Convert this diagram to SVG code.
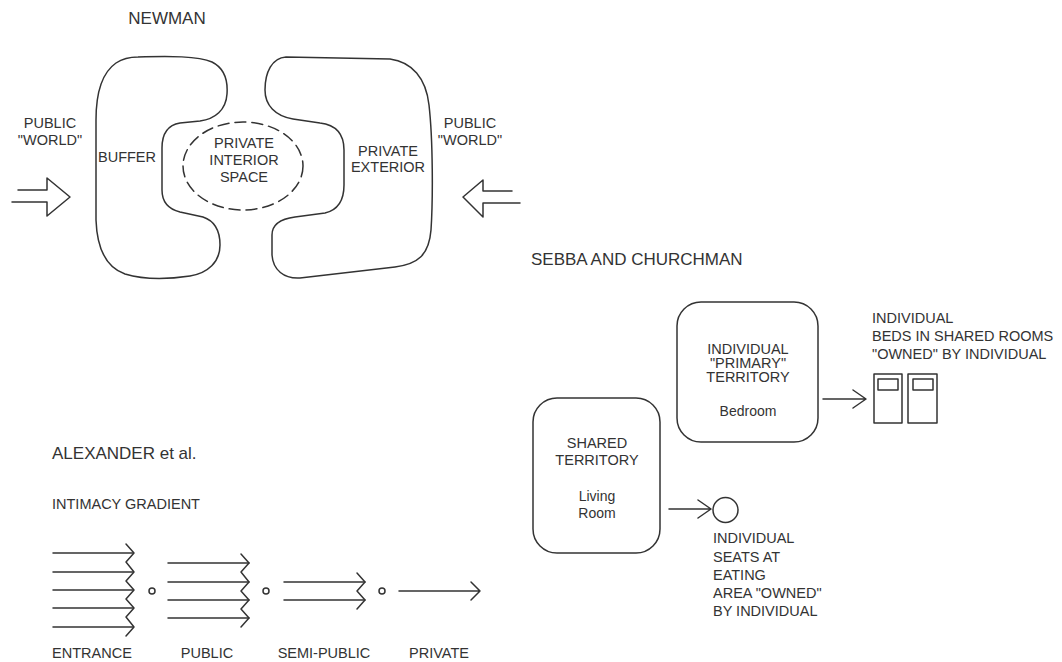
<svg xmlns="http://www.w3.org/2000/svg" width="1062" height="662" viewBox="0 0 1062 662">
<style>
  .ln { fill: none; stroke: #333; stroke-width: 1.5; stroke-linejoin: round; stroke-linecap: round; }
  .t { font-family: "Liberation Sans", Arial, sans-serif; font-size: 14.5px; fill: #333; }
  .h { font-family: "Liberation Sans", Arial, sans-serif; font-size: 17px; fill: #333; }
  .m { text-anchor: middle; }
  .dash { stroke-dasharray: 11 6; }
</style>
<rect width="1062" height="662" fill="#fff"/>

<!-- NEWMAN -->
<g id="newman-title"><text class="h m" x="167" y="24">NEWMAN</text></g>
<g id="newman-buffer">
  <path class="ln" d="M 138,57 C 170,56 198,56 212,62 C 224,68 228,80 227,94 C 226,110 215,119 200,121 L 180,123 C 168,125 162,133 162,148 L 162,190 C 162,202 168,209 180,212 L 203,217 C 215,221 220,232 220,245 C 220,262 208,273 190,276 C 170,279 145,280 125,274 C 105,267 97,248 96,220 L 96,120 C 96,90 103,72 116,63 C 122,59 130,57 138,57 Z"/>
  <text class="t m" x="127" y="162">BUFFER</text>
</g>
<g id="newman-exterior">
  <path class="ln" d="M 286,57 L 390,59 C 412,62 426,78 429,105 C 433,140 433,200 431,230 C 429,255 418,264 395,267 L 300,278 C 284,279 273,270 272,255 L 272,235 C 272,225 280,219 295,217 L 325,213 C 338,210 344,200 344,185 L 344,150 C 344,135 337,125 320,123 L 293,119 C 275,116 265,105 265,90 C 265,72 272,58 286,57 Z"/>
  <text class="t m" x="388" y="156">PRIVATE</text>
  <text class="t m" x="388" y="172">EXTERIOR</text>
</g>
<g id="newman-interior">
  <ellipse class="ln dash" cx="243" cy="166" rx="60" ry="44"/>
  <text class="t m" x="244" y="148">PRIVATE</text>
  <text class="t m" x="244" y="165">INTERIOR</text>
  <text class="t m" x="244" y="182">SPACE</text>
</g>
<g id="public-left">
  <text class="t m" x="50" y="128">PUBLIC</text>
  <text class="t m" x="50" y="145">"WORLD"</text>
</g>
<g id="public-right">
  <text class="t m" x="470" y="128">PUBLIC</text>
  <text class="t m" x="470" y="145">"WORLD"</text>
</g>

<!-- SEBBA AND CHURCHMAN -->
<g id="sebba-title"><text class="h" x="531" y="265">SEBBA AND CHURCHMAN</text></g>
<g id="primary-territory">
  <rect class="ln" x="677" y="302" width="141" height="140" rx="24"/>
  <text class="t m" x="748" y="354">INDIVIDUAL</text>
  <text class="t m" x="748" y="368">"PRIMARY"</text>
  <text class="t m" x="748" y="382">TERRITORY</text>
  <text class="t m" x="748" y="416" style="font-size:14px">Bedroom</text>
</g>
<g id="shared-territory">
  <rect class="ln" x="533" y="398" width="127" height="155" rx="24"/>
  <text class="t m" x="597" y="448">SHARED</text>
  <text class="t m" x="597" y="465">TERRITORY</text>
  <text class="t m" x="597" y="501" style="font-size:14px">Living</text>
  <text class="t m" x="597" y="518" style="font-size:14px">Room</text>
</g>
<g id="beds">
  <rect class="ln" x="874" y="374" width="28" height="49"/>
  <rect class="ln" x="878" y="379" width="20" height="11"/>
  <rect class="ln" x="908" y="374" width="29" height="49"/>
  <rect class="ln" x="913" y="379" width="20" height="11"/>
  <text class="t" x="872" y="323">INDIVIDUAL</text>
  <text class="t" x="872" y="341">BEDS IN SHARED ROOMS</text>
  <text class="t" x="872" y="359">"OWNED" BY INDIVIDUAL</text>
</g>
<g id="seat">
  <circle class="ln" cx="725.5" cy="510" r="12.5"/>
  <text class="t" x="713" y="543">INDIVIDUAL</text>
  <text class="t" x="713" y="562">SEATS AT</text>
  <text class="t" x="713" y="580">EATING</text>
  <text class="t" x="713" y="598">AREA "OWNED"</text>
  <text class="t" x="713" y="616">BY INDIVIDUAL</text>
</g>

<!-- ALEXANDER -->
<g id="alexander-title">
  <text class="h" x="52" y="459">ALEXANDER et al.</text>
  <text class="t" x="52" y="509">INTIMACY GRADIENT</text>
</g>
<g id="entrance">
  <path class="ln" d="M53,553H133 M53,572H133 M53,590H133 M53,608H133 M53,627H133"/>
  <path class="ln" d="M126,544 L134,553 L126,562 L134,572 L126,581 L134,590 L126,599 L134,608 L126,617 L134,627 L126,636"/>
  <text class="t m" x="92" y="658">ENTRANCE</text>
</g>
<g id="public">
  <path class="ln" d="M168,563H249 M168,582H249 M168,600H249 M168,618H249"/>
  <path class="ln" d="M241,554 L249,563 L241,572 L249,582 L241,591 L249,600 L241,609 L249,618 L241,627"/>
  <text class="t m" x="207" y="658">PUBLIC</text>
</g>
<g id="semi-public">
  <path class="ln" d="M284,582H365 M284,600H365"/>
  <path class="ln" d="M357,573 L365,582 L357,591 L365,600 L357,609"/>
  <text class="t m" x="324" y="658">SEMI-PUBLIC</text>
</g>
<g id="private">
  <text class="t m" x="439" y="658">PRIVATE</text>
</g>
<g id="dots">
  <circle class="ln" cx="152" cy="591" r="3"/>
  <circle class="ln" cx="266" cy="591" r="3"/>
  <circle class="ln" cx="382" cy="591" r="3"/>
</g>

<!-- connectors -->
<g id="connectors">
  <path class="ln" d="M18,190 L47,190 L47,178 L70,197 L47,216 L47,202 L12,202"/>
  <path class="ln" d="M512,191 L483,191 L483,180 L463,197 L483,217 L483,203 L520,203"/>
  <path class="ln" d="M823,399 L865,399 M853,390 L866,399 L853,408"/>
  <path class="ln" d="M669,509 L711,509 M698,500 L711,509 L698,518"/>
  <path class="ln" d="M399,591 L480,591 M471,582 L480,591 L471,600"/>
</g>
</svg>
